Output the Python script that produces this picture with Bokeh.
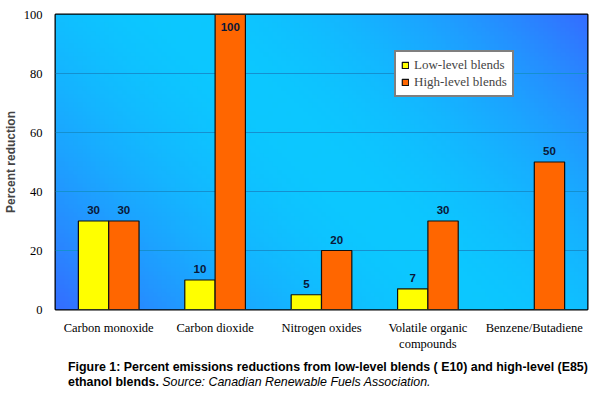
import numpy as np
from bokeh.plotting import figure
from bokeh.models import ColumnDataSource, Legend, LegendItem, FactorRange, Div
from bokeh.layouts import column
from bokeh.transform import dodge
from bokeh.core.properties import value
from bokeh.embed import file_html
from bokeh.resources import INLINE

categories = ["Carbon monoxide", "Carbon dioxide", "Nitrogen oxides",
              "Volatile organic\ncompounds", "Benzene/Butadiene"]
low_level = [30, 10, 5, 7, float("nan")]
high_level = [30, 100, 20, 30, 50]
y_ticks = [0, 20, 40, 60, 80, 100]

W, H = 600, 359
p = figure(width=W, height=H, x_range=FactorRange(*categories, range_padding=0),
           y_range=(0, 100), output_backend="svg", toolbar_location=None,
           min_border_left=51, min_border_right=13, min_border_top=14, min_border_bottom=50)
p.outline_line_color = "black"
p.outline_line_width = 2
p.background_fill_color = "#0cc8ff"
p.border_fill_color = "white"

# gradient background (decoration)
nx, ny = 120, 70
xs = np.linspace(0, 1, nx)
ys = np.linspace(0, 1, ny)
X, Y = np.meshgrid(xs, ys)
s = (X * 536 + Y * 295) / (536 + 295)  # 0 bottom-left .. 1 top-right
f = np.clip(np.abs(s - 0.5) * 2, 0, 1) ** 1.8
cyan = np.array([12, 200, 255])
blue = np.array([52, 110, 255])
rgb = cyan[None, None, :] * (1 - f[..., None]) + blue[None, None, :] * f[..., None]
img = np.zeros((ny, nx), dtype=np.uint32)
view = img.view(dtype=np.uint8).reshape((ny, nx, 4))
view[..., 0] = rgb[..., 0].astype(np.uint8)
view[..., 1] = rgb[..., 1].astype(np.uint8)
view[..., 2] = rgb[..., 2].astype(np.uint8)
view[..., 3] = 255
p.image_rgba(image=[img], x=0, y=0, dw=5, dh=100, level="image")

p.xgrid.grid_line_color = None
p.ygrid.grid_line_color = "#1590d0"
p.ygrid.grid_line_width = 1
p.ygrid.level = "underlay"

low_lab = [("" if np.isnan(v) else str(int(v))) for v in low_level]
low_y = [0 if np.isnan(v) else v for v in low_level]
src = ColumnDataSource(dict(
    cat=categories, low=low_y, high=high_level,
    low_lab=low_lab, high_lab=[str(v) for v in high_level],
    low_ty=[v + 3.6 if v + 3.6 < 98 else v - 4.4 for v in low_y],
    high_ty=[v + 3.6 if v + 3.6 < 98 else v - 4.4 for v in high_level],
))

bw = 0.285
r1 = p.vbar(x=dodge("cat", -bw / 2, range=p.x_range), top="low", width=bw, source=src,
            fill_color="#ffff00", line_color="#101010", line_width=1.2)
r2 = p.vbar(x=dodge("cat", bw / 2, range=p.x_range), top="high", width=bw, source=src,
            fill_color="#ff6600", line_color="#101010", line_width=1.2)

for col, ycol, off in [("low_lab", "low_ty", -bw / 2), ("high_lab", "high_ty", bw / 2)]:
    p.text(x=dodge("cat", off, range=p.x_range), y=ycol, text=col, source=src,
           text_align="center", text_baseline="middle", text_font=value("Liberation Sans"),
           text_font_style="bold", text_font_size="11.5px", text_color="#0a1838")

p.yaxis.ticker = y_ticks
p.yaxis.axis_label = "Percent reduction"
p.yaxis.axis_label_text_font = "Liberation Sans"
p.yaxis.axis_label_text_font_style = "bold"
p.yaxis.axis_label_text_font_size = "12px"
p.yaxis.axis_label_standoff = 3
for ax in (p.xaxis, p.yaxis):
    ax.axis_line_color = None
    ax.major_tick_line_color = None
    ax.minor_tick_line_color = None
    ax.major_label_text_font = "Liberation Serif"
    ax.major_label_text_font_size = "12.5px"
    ax.major_label_text_color = "black"
p.yaxis.major_label_standoff = 7
p.xaxis.major_label_standoff = 5

legend = Legend(items=[LegendItem(label="Low-level blends", renderers=[r1]),
                       LegendItem(label="High-level blends", renderers=[r2])],
                location=(339, 212), border_line_color="black", border_line_width=2,
                background_fill_color="white", background_fill_alpha=1,
                label_text_font="Liberation Serif", label_text_font_size="13px",
                glyph_width=8, glyph_height=8, label_standoff=5, spacing=1,
                padding=5, margin=0, label_height=13, label_width=93)
p.add_layout(legend, "center")

caption = Div(
    text=("<b>Figure 1: Percent emissions reductions from low-level blends ( E10) and high-level (E85)</b><br>"
          "<b>ethanol blends.</b> <i>Source: Canadian Renewable Fuels Association.</i>"),
    width=W, margin=(0, 0, 0, 0),
    styles={"font-family": "Liberation Sans", "font-size": "12.4px", "line-height": "15px",
            "padding-top": "1px", "padding-left": "68px", "color": "black"})

layout = column(p, caption, spacing=0)
open("out.html", "w").write(file_html(layout, INLINE))
